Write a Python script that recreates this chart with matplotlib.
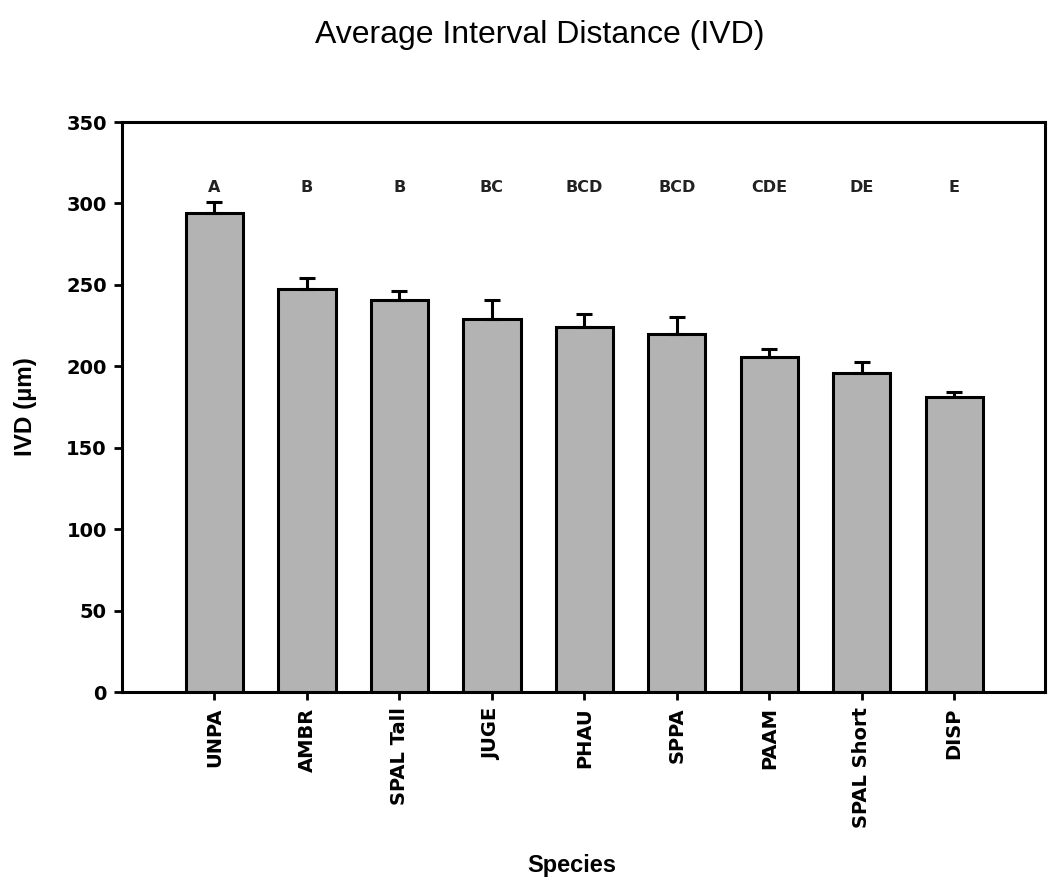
import matplotlib
matplotlib.use("Agg")
import matplotlib.pyplot as plt
import numpy as np

species = ["UNPA", "AMBR", "SPAL Tall", "JUGE", "PHAU", "SPPA", "PAAM", "SPAL Short", "DISP"]
ivd_mean = [294, 247.5, 241, 229, 224, 220, 206, 196, 181]
ivd_err = [7, 7, 5, 12, 8, 10, 4.5, 6.5, 3.5]
groups = ["A", "B", "B", "BC", "BCD", "BCD", "CDE", "DE", "E"]
y_ticks = [0, 50, 100, 150, 200, 250, 300, 350]
group_label_y = 310

fig = plt.figure(figsize=(10.48, 8.81), dpi=100)
ax = fig.add_axes([0.1164, 0.2145, 0.8806, 0.647])

x = np.arange(len(species))
ax.bar(x, ivd_mean, width=0.62, color="#b3b3b3", edgecolor="black", linewidth=2.2, zorder=2)
ax.errorbar(x, ivd_mean, yerr=[np.zeros(len(ivd_err)), ivd_err], fmt="none",
            ecolor="black", elinewidth=2.2, capsize=6, capthick=2.2, zorder=3)

for xi, g in zip(x, groups):
    ax.text(xi, group_label_y, g, ha="center", va="center", fontsize=11.5,
            fontweight="bold", family="DejaVu Sans", color="#222222")

ax.set_xlim(-1, 8.98)
ax.set_ylim(0, 350)
ax.set_yticks(y_ticks)
ax.set_xticks(x)
ax.set_xticklabels(species, rotation=90, fontsize=14, fontweight="bold", family="DejaVu Sans")
for lab in ax.get_yticklabels():
    lab.set_fontsize(14)
    lab.set_fontweight("bold")
    lab.set_family("DejaVu Sans")

for s in ax.spines.values():
    s.set_linewidth(2.2)
ax.tick_params(direction="out", length=6, width=2, pad=5)

ax.set_ylabel("IVD (µm)", fontsize=17.5, fontweight="bold", family="Liberation Sans")
ax.yaxis.set_label_coords(-0.092, 0.5)
ax.set_xlabel("Species", fontsize=17, fontweight="bold", family="Liberation Sans")
ax.xaxis.set_label_coords(0.487, -0.285)

fig.text(0.515, 0.96, "Average Interval Distance (IVD)", ha="center", va="center",
         fontsize=23, family="Liberation Sans")

fig.savefig("out.png", dpi=100)
